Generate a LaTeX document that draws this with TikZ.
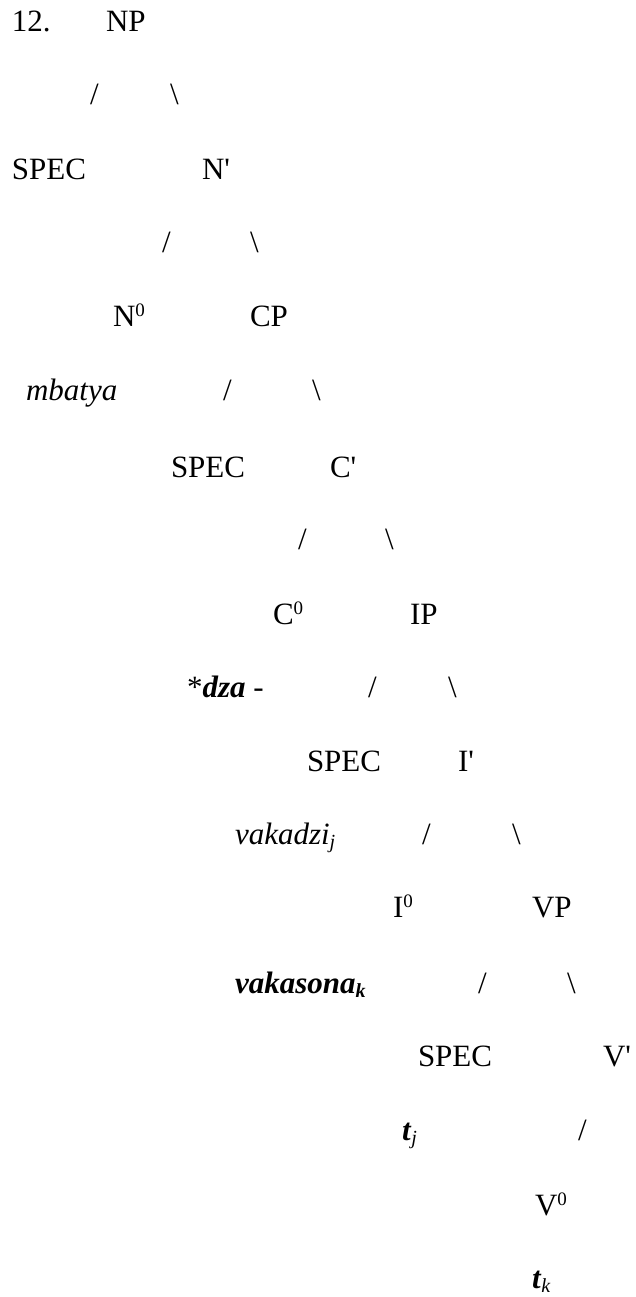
\documentclass[tikz,border=0pt]{standalone}
\usepackage{fontspec}
\setmainfont{Liberation Serif}
% Word-style raised and lowered indices
\newcommand{\lo}[1]{\raisebox{-0.14em}{\fontsize{20}{20}\selectfont #1}}
\newcommand{\hi}[1]{\raisebox{0.32em}{\fontsize{19}{19}\selectfont #1}}
\begin{document}
\begin{tikzpicture}[x=1pt,y=-1pt,
  lbl/.style={anchor=base west,inner sep=0pt,outer sep=0pt,
    font=\fontsize{31}{37}\selectfont}]
\useasboundingbox (0,0) rectangle (636,1297);
% NP
\node[lbl] (num) at (12,32) {12.};
\node[lbl] (np) at (106,32) {NP};
\node[lbl] (np-l) at (90,105) {/};
\node[lbl] (np-r) at (170,105) {\textbackslash};
\node[lbl] (nspec) at (12,180) {SPEC};
\node[lbl] (nbar) at (202,180) {N\textquotesingle};
\node[lbl] (nbar-l) at (162,252) {/};
\node[lbl] (nbar-r) at (250,252) {\textbackslash};
\node[lbl] (n0) at (113,326) {N\hi{0}};
\node[lbl] (cp) at (250,326) {CP};
\node[lbl] (mbatya) at (26,400) {\textit{mbatya}};
% CP
\node[lbl] (cp-l) at (223,400) {/};
\node[lbl] (cp-r) at (312,400) {\textbackslash};
\node[lbl] (cspec) at (171,477) {SPEC};
\node[lbl] (cbar) at (330,477) {C\textquotesingle};
\node[lbl] (cbar-l) at (298,549) {/};
\node[lbl] (cbar-r) at (385,549) {\textbackslash};
\node[lbl] (c0) at (273,624) {C\hi{0}};
\node[lbl] (ip) at (410,624) {IP};
\node[lbl] (dza) at (187,697) {*\textbf{\textit{dza}} -};
% IP
\node[lbl] (ip-l) at (368,697) {/};
\node[lbl] (ip-r) at (448,697) {\textbackslash};
\node[lbl] (ispec) at (307,771) {SPEC};
\node[lbl] (ibar) at (458,771) {I\textquotesingle};
\node[lbl] (vakadzi) at (235,844) {\textit{vakadzi}\lo{\textit{j}}};
\node[lbl] (ibar-l) at (422,844) {/};
\node[lbl] (ibar-r) at (512,844) {\textbackslash};
\node[lbl] (i0) at (393,917) {I\hi{0}};
\node[lbl] (vp) at (532,917) {VP};
\node[lbl] (vakasona) at (235,993) {\textbf{\textit{vakasona}}\lo{\textbf{\textit{k}}}};
% VP
\node[lbl] (vp-l) at (478,993) {/};
\node[lbl] (vp-r) at (567,993) {\textbackslash};
\node[lbl] (vspec) at (418,1066) {SPEC};
\node[lbl] (vbar) at (603,1066) {V\textquotesingle};
\node[lbl] (tj) at (402,1140) {\textbf{\textit{t}}\lo{\textit{j}}};
\node[lbl] (vbar-l) at (578,1140) {/};
\node[lbl] (v0) at (535,1215) {V\hi{0}};
\node[lbl] (tk) at (532,1288) {\textbf{\textit{t}}\lo{\textit{k}}};
\end{tikzpicture}
\end{document}
